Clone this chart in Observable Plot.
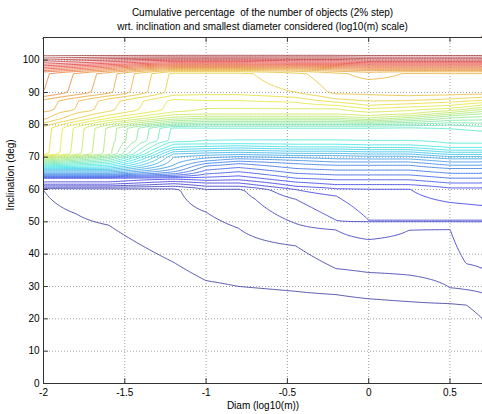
<!DOCTYPE html>
<html><head><meta charset="utf-8">
<script src="https://cdn.jsdelivr.net/npm/d3@7"></script>
<script src="https://cdn.jsdelivr.net/npm/@observablehq/plot@0.6"></script>
<style>
body{margin:0;background:#fff;}
#title{font:10px "Liberation Sans",Arial,sans-serif;color:#000;text-align:center;width:439px;margin-left:43px;height:34px;line-height:14px;padding-top:6px;box-sizing:border-box;white-space:nowrap;}
</style></head><body>
<div id="title">Cumulative percentage&nbsp; of the number of objects (2% step)<br>wrt. inclination and smallest diameter considered (log10(m) scale)</div>
<div id="chart"></div>
<script>
// contour levels (2% step)
const levels = [2,4,6,8,10,12,14,16,18,20,22,24,26,28,30,32,34,36,38,40,42,44,46,48,50,52,54,56,58,60,62,64,66,68,70,72,74,76,78,80,82,84,86,88,90,92,94,96,98];
const xTicks = [-2,-1.5,-1,-0.5,0,0.5];
const yTicks = [0,10,20,30,40,50,60,70,80,90,100];
// diameter columns (log10 m)
const diam = [-2,-1.8,-1.6,-1.2,-1.0,-0.8,-0.45,-0.2,0,0.25,0.5,0.6,0.7];
// cumulative percentage profiles [inclination, %] for each diameter column
const colM20 = [[0,0],[30,0.8],[59.8,2],[60.3,4],[60.7,6],[61.1,8],[61.6,10],[62.3,12],[63.5,14],[64.2,20],[65,26],[65.8,30],[67,38],[68.5,48],[70,58],[71,65],[79,65.5],[80,67],[81,69],[82,70.5],[84,72],[84.5,73],[87.5,73.5],[88.5,75.5],[89.5,77.5],[90,78],[96,78.5],[97,83],[98,87],[99,91],[100,94],[100.8,96.5],[101.5,98.5],[102.5,100],[107,100]];
const colM18 = [[0,0],[30,0.85],[52.5,2],[59.8,2.6],[60.3,4],[60.7,6],[61.1,8],[61.6,10],[62.3,12],[63.5,14],[64.2,20],[65,26],[65.8,30],[67,37],[68.5,45],[70,53],[71,59],[79,59.5],[80,61.5],[81,64],[82,66.3],[84,68.5],[84.5,69.8],[87.5,70.3],[88.5,72.3],[89.5,74.5],[90,75.3],[96,75.8],[97,80.5],[98,85],[99,89.5],[100,93],[100.8,96],[101.5,98.5],[102.5,100],[107,100]];
const colM16 = [[0,0],[30,0.9],[49,2],[59.8,3],[60.3,4],[60.7,6],[61.1,8],[61.6,10],[62.3,12],[63.5,14],[64.2,20],[65,26],[65.8,30],[67,36],[68.5,42],[70,48],[71,53],[79,53.5],[80,56],[81,59],[82,62],[83.5,65],[84.5,66.5],[87.5,67],[88.5,69],[89.5,71.5],[90,72.5],[96,73],[97,78],[98,83],[99,88],[100,92],[100.8,95.5],[101.5,98.5],[102.5,100],[107,100]];
const colM12 = [[0,0],[20,0.5],[37.5,2],[59.8,3.5],[60.3,4],[61,6],[61.8,8],[62.5,10],[63.3,12],[64,16],[64.8,20],[65.8,23],[67.5,26],[70,28],[71,30],[72,33],[73,36],[74.5,39],[75,41],[79,41.5],[79.5,44],[80,47],[81,51],[82,55],[83.5,59],[84.5,61],[87.5,61.5],[88.5,63],[89.5,64.5],[90,65],[96,65.5],[97,71],[98,78],[99,85],[100,90],[100.8,95],[101.5,98.5],[102.5,100],[107,100]];
const colM10 = [[0,0],[20,0.5],[31.8,2],[53,4],[60.2,6],[61,8],[62,10],[62.8,12],[63.8,14],[64.8,16],[66,18],[67.3,20],[68.8,24],[70.2,27],[71.3,30],[72.3,33],[73.3,36],[74.5,39],[75.3,40.2],[78.5,40.7],[79.3,43],[80.3,47],[81.3,51],[82.3,55],[83.5,58.5],[85,60],[87,61.5],[89,63.5],[90,65],[96,65.5],[97,71],[98,78],[99,85],[100,90],[100.8,95],[101.5,98.5],[102.5,100],[107,100]];
const colM08 = [[0,0],[20,0.5],[30,2],[48,4],[59.5,5.5],[60.2,6],[61,8],[62,10],[63,12],[64.2,14],[65.5,16],[66.8,18],[68,20],[69.5,24],[70.5,27],[71.5,30],[72.5,33],[73.5,36],[74.5,39],[75.5,40.2],[78.5,40.7],[79.3,43],[80.3,47],[81.3,51],[82.3,55],[83.5,58.5],[85,60],[87,61.5],[89,63.5],[90,65],[96,65.5],[97,71],[98,78],[99,85],[100,90],[100.8,95],[101.5,98.5],[102.5,100],[107,100]];
const colM045 = [[0,0],[20,0.5],[28.5,2],[42.6,4],[49.5,6],[57,8],[60,10],[61,12],[62.3,14],[63.5,16],[65,18],[66.5,20],[68,22],[69.5,25],[70.5,28],[71.5,31],[72.5,34],[73.5,37],[74.5,39],[75.5,40.2],[78.5,40.7],[79.3,43],[80.3,47],[81.3,51],[82.3,55],[83.5,58.5],[85,60],[87,62],[88.5,64],[90,66],[96,67.5],[97,72],[98,79],[99,86],[100,91],[100.8,95],[101.5,98.5],[102.5,100],[107,100]];
const colM02 = [[0,0],[20,0.5],[27.5,2],[35.5,4],[47.5,6],[50.5,8],[58,10],[60.3,12],[61.5,14],[63,16],[64.5,18],[66,20],[67.5,22],[69,25],[70.5,28],[71.5,31],[72.5,34],[73.5,37],[74.5,39],[75.5,40.2],[78.5,40.7],[79.3,43],[80.3,47],[81.3,51],[82.3,55],[83.5,58.5],[85,60],[86.5,63],[88,66],[90,68.5],[96,69.5],[97,74],[98,80],[99,86],[100,91],[100.8,95],[101.5,98.5],[102.5,100],[107,100]];
const colP00 = [[0,0],[20,0.5],[26.2,2],[34.3,4],[44.5,6],[50.2,8],[50.5,10],[60.3,12],[61.5,14],[63,16],[64.5,18],[66,20],[67.5,22],[69,25],[70.3,28],[71.3,31],[72.3,34],[73.3,37],[74.3,39],[75.3,40.2],[78.5,40.7],[79.3,43],[80.3,47],[81,51],[81.8,55],[83,58.5],[84.5,61],[86,64],[88,67],[90,68.5],[93,69.5],[96,71],[97,75],[98,81],[99,87],[100,92],[100.8,95.5],[101.5,98.5],[102.5,100],[107,100]];
const colP025 = [[0,0],[20,0.5],[25.3,2],[33.5,4],[47.5,6],[50.2,8],[50.5,10],[60.3,12],[61.5,14],[63,16],[64.5,18],[66,20],[67.5,22],[69,25],[70.3,28],[71.3,31],[72.3,34],[73.3,37],[74.3,39],[75.3,40.2],[78.5,40.7],[79.5,43],[80.5,47],[81.5,51],[82.5,55],[83.5,58.5],[85,61],[86.5,64],[88,67],[90,69],[96,69.8],[97,75],[98,81],[99,87],[100,92],[100.8,95.5],[101.5,98.5],[102.5,100],[107,100]];
const colP05 = [[0,0],[20,0.5],[24.7,2],[29.6,4],[47.8,6],[50.2,8],[50.5,10],[56,12],[60.5,14],[62,16],[63.5,18],[65,20],[66.5,22],[68,25],[69.5,28],[70.5,31],[71.5,34],[72.5,37],[73.5,39],[74.5,40.2],[78,41],[79.5,43],[81,47],[82.5,51],[83.5,55],[84.5,58.5],[85.5,61],[87,64],[88.5,67],[90,69],[96,70],[97,75],[98,81],[99,87],[100,92],[100.8,95.5],[101.5,98.5],[102.5,100],[107,100]];
const colP06 = [[0,0],[19,0.5],[24.3,2],[29,4],[37,6],[50.2,8],[50.5,10],[55.5,12],[60.5,14],[62,16],[63.5,18],[65,20],[66.5,22],[68,25],[69.5,28],[70.5,31],[71.5,34],[72.5,37],[73.5,39],[74.5,40.2],[77.5,41],[79.3,43],[81,47],[82.8,51],[84,55],[85,58.5],[86,61],[87.3,64],[88.8,67],[90,69],[96,70],[97,75],[98,81],[99,87],[100,92],[100.8,95.5],[101.5,98.5],[102.5,100],[107,100]];
const colP07 = [[0,0],[17,0.5],[20,2],[28,4],[35.5,6],[50.2,8],[50.5,10],[55,12],[60.5,14],[62,16],[63.5,18],[65,20],[66.5,22],[68,25],[69.5,28],[70.5,31],[71.5,34],[72.5,37],[73.5,39],[74.5,40.2],[77,41],[79,43],[81,47],[83,51],[84.5,55],[85.5,58.5],[86.5,61],[87.5,64],[89,67],[90,69],[96,70],[97,75],[98,81],[99,87],[100,92],[100.8,95.5],[101.5,98.5],[102.5,100],[107,100]];
const columns = [colM20,colM18,colM16,colM12,colM10,colM08,colM045,colM02,colP00,colP025,colP05,colP06,colP07];

function profile(col, inc) {
  for (let k = 1; k < col.length; k++) {
    if (inc <= col[k][0]) {
      const [i0, v0] = col[k-1], [i1, v1] = col[k];
      return v0 + (v1 - v0) * (inc - i0) / (i1 - i0);
    }
  }
  return col[col.length-1][1];
}
function pct(d, inc) {
  let k = 1;
  while (k < diam.length - 1 && d > diam[k]) k++;
  const t = Math.max(0, Math.min(1, (d - diam[k-1]) / (diam[k] - diam[k-1])));
  return profile(columns[k-1], inc) * (1 - t) + profile(columns[k], inc) * t;
}
// jet colormap, muted as in the printed figure
function jet(t) {
  const c = x => Math.max(0, Math.min(1, x));
  const r = c(1.5 - Math.abs(4*t - 3)), g = c(1.5 - Math.abs(4*t - 2)), b = c(1.5 - Math.abs(4*t - 1));
  const m = 0.35, gr = 190;
  return `rgb(${Math.round(r*255*(1-m)+gr*m)},${Math.round(g*255*(1-m)+gr*m)},${Math.round(b*255*(1-m)+gr*m)})`;
}
const fmt = d => String(d);
const plot = Plot.plot({
  width: 482, height: 380,
  marginLeft: 43, marginRight: 0, marginTop: 3, marginBottom: 31,
  style: {fontFamily: '"Liberation Sans", Arial, sans-serif', fontSize: "10px", color: "#000", background: "#fff"},
  x: {domain: [-2, 0.7], label: null},
  y: {domain: [0, 107], label: null},
  color: {type: "linear", domain: [0, 100], interpolate: jet},
  marks: [
    Plot.gridX(xTicks, {stroke: "#888", strokeOpacity: 1, strokeDasharray: "1,2", strokeWidth: 0.8}),
    Plot.gridY(yTicks, {stroke: "#888", strokeOpacity: 1, strokeDasharray: "1,2", strokeWidth: 0.8}),
    Plot.contour({value: pct, x1: -2, x2: 0.7, y1: 0, y2: 107, width: 271, height: 215,
      thresholds: levels, stroke: "value", fill: "none", strokeWidth: 0.9}),
    Plot.ruleX(xTicks, {y1: 0, y2: 1.5, stroke: "#333"}),
    Plot.ruleX(xTicks, {y1: 105.5, y2: 107, stroke: "#333"}),
    Plot.ruleY(yTicks, {x1: -2, x2: -1.97, stroke: "#333"}),
    Plot.frame({stroke: "#333"}),
    Plot.axisX(xTicks, {tickSize: 0, tickPadding: 5, tickFormat: fmt, label: null}),
    Plot.axisY(yTicks, {tickSize: 0, tickPadding: 4, tickFormat: fmt, label: null}),
    Plot.text(["Diam (log10(m))"], {frameAnchor: "bottom", dy: 25, fontSize: 10}),
    Plot.text(["Inclination (deg)"], {frameAnchor: "left", dx: -33, rotate: -90, fontSize: 10})
  ]
});
document.getElementById("chart").appendChild(plot);
</script>
</body></html>
